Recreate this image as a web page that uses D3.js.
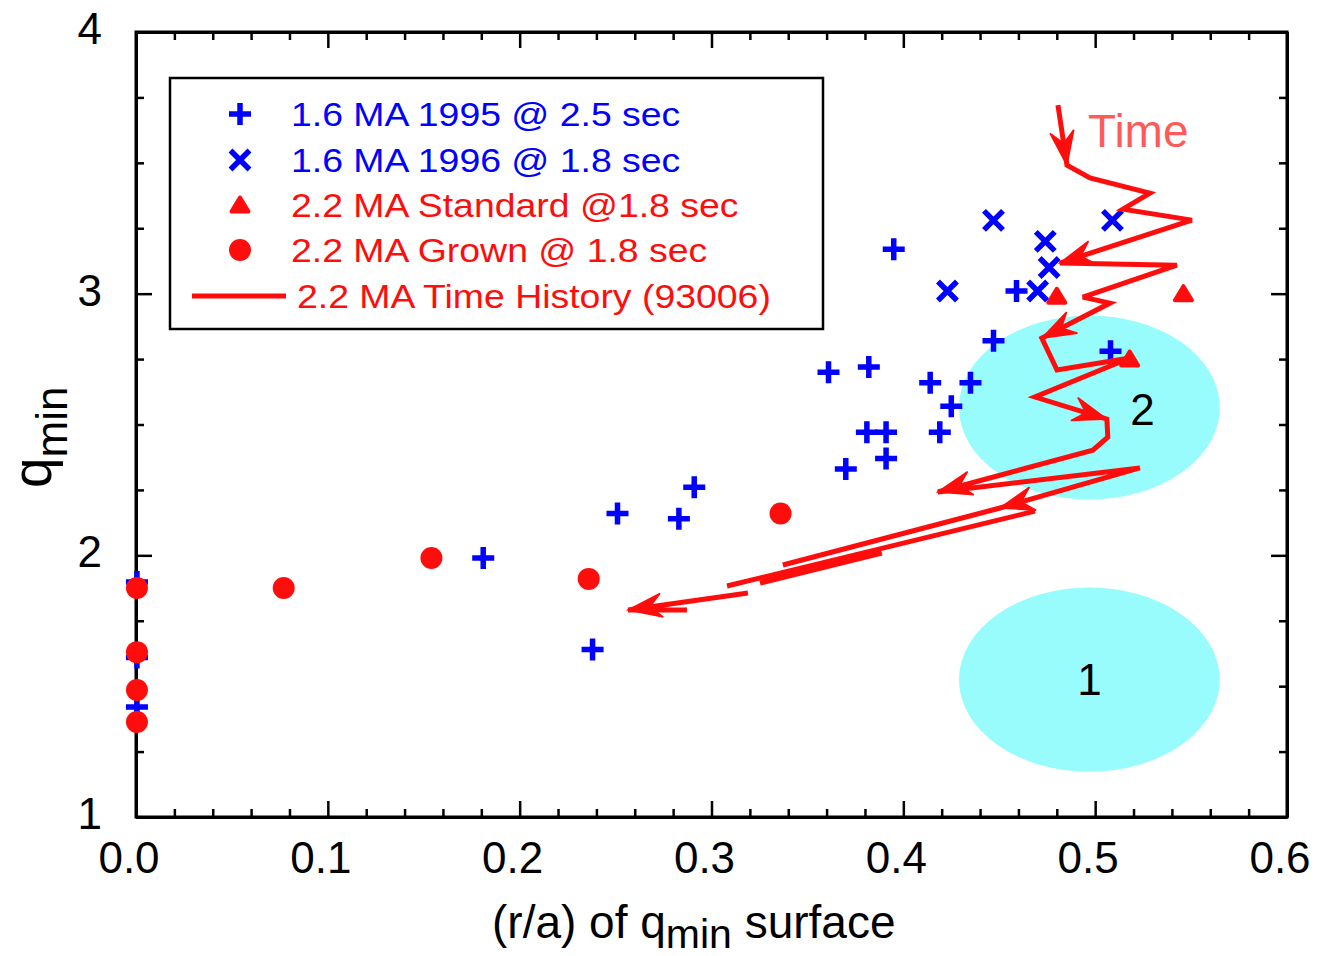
<!DOCTYPE html>
<html>
<head>
<meta charset="utf-8">
<script src="https://cdn.jsdelivr.net/npm/d3@7"></script>
<style>
  html, body { margin: 0; padding: 0; background: #fff; }
  svg { display: block; font-family: "Liberation Sans", Arial, Helvetica, sans-serif; }
</style>
</head>
<body>
<svg id="chart" width="1318" height="956"></svg>
<script>
// q_min versus normalised radius (r/a) of the q_min surface

// 1.6 MA 1995 @ 2.5 sec  (plus markers)
const plus1995R = [0.0005, 0.0005, 0.0005, 0.181, 0.238, 0.251, 0.283, 0.291, 0.361, 0.382, 0.381, 0.391, 0.391, 0.370, 0.395, 0.414, 0.425, 0.419, 0.435, 0.447, 0.459, 0.508];
const plus1995Q = [1.898, 1.61, 1.42, 1.99, 1.64, 2.16, 2.14, 2.26, 2.70, 2.72, 2.47, 2.47, 2.37, 2.33, 3.17, 2.66, 2.57, 2.47, 2.66, 2.82, 3.01, 2.78];

// 1.6 MA 1996 @ 1.8 sec  (cross markers)
const cross1996R = [0.423, 0.447, 0.474, 0.476, 0.470, 0.509];
const cross1996Q = [3.01, 3.28, 3.20, 3.10, 3.01, 3.28];

// 2.2 MA Standard @1.8 sec  (triangles)
const standardR = [0.480, 0.546, 0.518];
const standardQ = [2.99, 3.00, 2.75];

// 2.2 MA Grown @ 1.8 sec  (circles)
const grownR = [0.0005, 0.0005, 0.0005, 0.0005, 0.077, 0.154, 0.236, 0.336];
const grownQ = [1.875, 1.63, 1.485, 1.363, 1.875, 1.99, 1.91, 2.16];

// 2.2 MA time history, shot 93006 (null separates traced pieces)
const historyR = [0.4806, 0.4853, 0.4973, 0.5285, 0.5145, 0.5504, 0.4816, 0.5426, 0.4936, 0.5077,
                  0.4722, 0.4801, 0.5181, 0.4686, 0.5061, 0.5066, 0.4988, 0.4180, 0.5233, 0.4504,
                  0.3372, null, 0.4686, 0.3081, null, 0.3888, 0.3253, null, 0.3190, 0.2565, 0.2872];
const historyQ = [3.721, 3.491, 3.442, 3.384, 3.323, 3.281, 3.117, 3.109, 2.987, 2.964,
                  2.830, 2.708, 2.754, 2.605, 2.521, 2.452, 2.402, 2.242, 2.334, 2.181,
                  1.963, null, 2.169, 1.883, null, 2.009, 1.894, null, 1.856, 1.791, 1.791];
// vertices at which a direction arrow ends
const historyArrowAt = [1, 6, 10, 14, 17, 19, 29];

// operating regions
const regionLabels = ["1", "2"];
const regionR = [0.497, 0.497];
const regionQ = [1.525, 2.565];
const regionHalfR = [0.068, 0.068];
const regionHalfQ = [0.352, 0.352];

// axis ticks
const xTickLabels = ["0.0", "0.1", "0.2", "0.3", "0.4", "0.5", "0.6"];
const xTickValues = [0, 0.1, 0.2, 0.3, 0.4, 0.5, 0.6];
const yTickLabels = ["1", "2", "3", "4"];
const yTickValues = [1, 2, 3, 4];

const legendLabels = [
  "1.6 MA 1995 @ 2.5 sec",
  "1.6 MA 1996 @ 1.8 sec",
  "2.2 MA Standard @1.8 sec",
  "2.2 MA Grown @ 1.8 sec",
  "2.2 MA Time History (93006)"
];

const BLUE = "#0000ff";
const RED = "#ff0d0d";
const CYAN = "#99fcfc";

const svg = d3.select("#chart");
const plotL = 136, plotR = 1287, plotT = 32, plotB = 817;

const x = d3.scaleLinear().domain([0, 0.6]).range([plotL, plotR]);
const y = d3.scaleLinear().domain([1, 4]).range([plotB, plotT]);

// ---------- regions ----------
const gReg = svg.append("g");
regionLabels.forEach((lab, i) => {
  gReg.append("ellipse")
    .attr("cx", x(regionR[i]))
    .attr("cy", y(regionQ[i]))
    .attr("rx", x(regionR[i] + regionHalfR[i]) - x(regionR[i]))
    .attr("ry", y(regionQ[i]) - y(regionQ[i] + regionHalfQ[i]))
    .attr("fill", CYAN);
});
gReg.append("text").attr("x", x(regionR[0])).attr("y", y(regionQ[0]))
  .attr("dy", "0.36em").attr("text-anchor", "middle")
  .attr("font-size", 44).attr("fill", "#000").text(regionLabels[0]);
gReg.append("text").attr("x", x(regionR[1]) + 53).attr("y", y(regionQ[1]) + 2)
  .attr("dy", "0.36em").attr("text-anchor", "middle")
  .attr("font-size", 44).attr("fill", "#000").text(regionLabels[1]);

// ---------- axes frame with inward ticks ----------
const xMinor = d3.range(0, 0.6001, 0.02);
const yMinor = d3.range(1, 4.001, 0.25);
const isMajorX = v => Math.abs(v * 10 - Math.round(v * 10)) < 1e-6;
const isMajorY = v => Math.abs(v - Math.round(v)) < 1e-6;

const axisB = d3.axisBottom(x).tickValues(xMinor).tickSizeInner(-8).tickSizeOuter(0).tickFormat("");
const axisT = d3.axisTop(x).tickValues(xMinor).tickSizeInner(-8).tickSizeOuter(0).tickFormat("");
const axisLft = d3.axisLeft(y).tickValues(yMinor).tickSizeInner(-8).tickSizeOuter(0).tickFormat("");
const axisRgt = d3.axisRight(y).tickValues(yMinor).tickSizeInner(-8).tickSizeOuter(0).tickFormat("");

function styleAxis(g, majorTest) {
  g.select(".domain").attr("stroke", "#000").attr("stroke-width", 3);
  g.selectAll(".tick line").attr("stroke", "#000").attr("stroke-width", 2.5)
    .each(function(d) {
      if (majorTest(d)) {
        const l = d3.select(this);
        const y2 = l.attr("y2"), x2 = l.attr("x2");
        if (y2 !== null && +y2 !== 0) l.attr("y2", +y2 < 0 ? -16 : 16);
        if (x2 !== null && +x2 !== 0) l.attr("x2", +x2 < 0 ? -16 : 16);
      }
    });
}
svg.append("g").attr("transform", `translate(0,${plotB})`).call(axisB).call(g => styleAxis(g, isMajorX));
svg.append("g").attr("transform", `translate(0,${plotT})`).call(axisT).call(g => styleAxis(g, isMajorX));
svg.append("g").attr("transform", `translate(${plotL},0)`).call(axisLft).call(g => styleAxis(g, isMajorY));
svg.append("g").attr("transform", `translate(${plotR},0)`).call(axisRgt).call(g => styleAxis(g, isMajorY));
svg.append("rect").attr("x", plotL).attr("y", plotT).attr("width", plotR - plotL).attr("height", plotB - plotT)
  .attr("fill", "none").attr("stroke", "#000").attr("stroke-width", 3);

// tick labels
svg.append("g").selectAll("text").data(xTickValues).join("text")
  .attr("x", d => x(d) - 7).attr("y", plotB + 56)
  .attr("text-anchor", "middle").attr("font-size", 44).attr("fill", "#000")
  .text((d, i) => xTickLabels[i]);
svg.append("g").selectAll("text").data(yTickValues).join("text")
  .attr("x", plotL - 34).attr("y", d => y(d) - 4).attr("dy", "0.36em")
  .attr("text-anchor", "end").attr("font-size", 44).attr("fill", "#000")
  .text((d, i) => yTickLabels[i]);

// axis titles
const xt = svg.append("text").attr("x", 492).attr("y", 938).attr("font-size", 46).attr("fill", "#000");
xt.append("tspan").text("(r/a) of q");
xt.append("tspan").attr("font-size", 41).attr("dy", 10).text("min");
xt.append("tspan").attr("dy", -10).text(" surface");

const yt = svg.append("text").attr("transform", "translate(51,488) rotate(-90)").attr("fill", "#000");
yt.append("tspan").attr("font-size", 55).text("q");
yt.append("tspan").attr("font-size", 44).attr("dy", 16).text("min");

// ---------- markers ----------
function plusPath(s) { return `M${-s},0H${s}M0,${-s}V${s}`; }
function crossPath(s) { return `M${-s},${-s}L${s},${s}M${-s},${s}L${s},${-s}`; }
const triPath = "M0,-7.5L8.5,6.5L-8.5,6.5Z";

function drawPlus(g, cx, cy) {
  g.append("path").attr("transform", `translate(${cx},${cy})`).attr("d", plusPath(11))
    .attr("stroke", BLUE).attr("stroke-width", 5.5).attr("fill", "none");
}
function drawCross(g, cx, cy) {
  g.append("path").attr("transform", `translate(${cx},${cy})`).attr("d", crossPath(9.5))
    .attr("stroke", BLUE).attr("stroke-width", 5.5).attr("fill", "none");
}
function drawTri(g, cx, cy) {
  g.append("path").attr("transform", `translate(${cx},${cy})`).attr("d", triPath)
    .attr("fill", RED).attr("stroke", RED).attr("stroke-width", 4).attr("stroke-linejoin", "round");
}
function drawCircle(g, cx, cy) {
  g.append("circle").attr("cx", cx).attr("cy", cy).attr("r", 11).attr("fill", RED);
}

const gPts = svg.append("g");
plus1995R.forEach((r, i) => drawPlus(gPts, x(r), y(plus1995Q[i])));
cross1996R.forEach((r, i) => drawCross(gPts, x(r), y(cross1996Q[i])));
standardR.forEach((r, i) => drawTri(gPts, x(r), y(standardQ[i])));
grownR.forEach((r, i) => drawCircle(gPts, x(r), y(grownQ[i])));

// ---------- time history ----------
const pts = historyR.map((r, i) => r === null ? null : [x(r), y(historyQ[i])]);
svg.append("path")
  .attr("d", d3.line().defined(p => p !== null)(pts))
  .attr("fill", "none").attr("stroke", RED).attr("stroke-width", 5)
  .attr("stroke-linejoin", "miter").attr("stroke-miterlimit", 3);

const arrowHead = "M0,0L-34,-12L-22,0L-34,12Z";
historyArrowAt.forEach(i => {
  const [x0, y0] = pts[i - 1], [x1, y1] = pts[i];
  const ang = Math.atan2(y1 - y0, x1 - x0) * 180 / Math.PI;
  svg.append("path").attr("d", arrowHead)
    .attr("transform", `translate(${x1},${y1}) rotate(${ang})`)
    .attr("fill", RED).attr("stroke", RED).attr("stroke-width", 1.5).attr("stroke-linejoin", "miter");
});

svg.append("text").attr("x", 1088).attr("y", 147).attr("font-size", 46)
  .attr("fill", "#ff5a5a").text("Time");

// ---------- legend ----------
const gLeg = svg.append("g");
gLeg.append("rect").attr("x", 170).attr("y", 78).attr("width", 653).attr("height", 251)
  .attr("fill", "#fff").attr("stroke", "#000").attr("stroke-width", 2.5);
const rowY = [114, 160, 205, 250, 296];
drawPlus(gLeg, 240, rowY[0]);
drawCross(gLeg, 240, rowY[1]);
drawTri(gLeg, 240, rowY[2]);
drawCircle(gLeg, 240, rowY[3]);
gLeg.append("line").attr("x1", 192).attr("x2", 286).attr("y1", rowY[4]).attr("y2", rowY[4])
  .attr("stroke", RED).attr("stroke-width", 5);
const legColors = [BLUE, BLUE, RED, RED, RED];
const legX = [291, 291, 291, 291, 297];
legendLabels.forEach((t, i) => {
  gLeg.append("text")
    .attr("transform", `translate(${legX[i]},${rowY[i] + 12}) scale(1.1,1)`)
    .attr("font-size", 34).attr("fill", legColors[i]).text(t);
});
</script>
</body>
</html>
